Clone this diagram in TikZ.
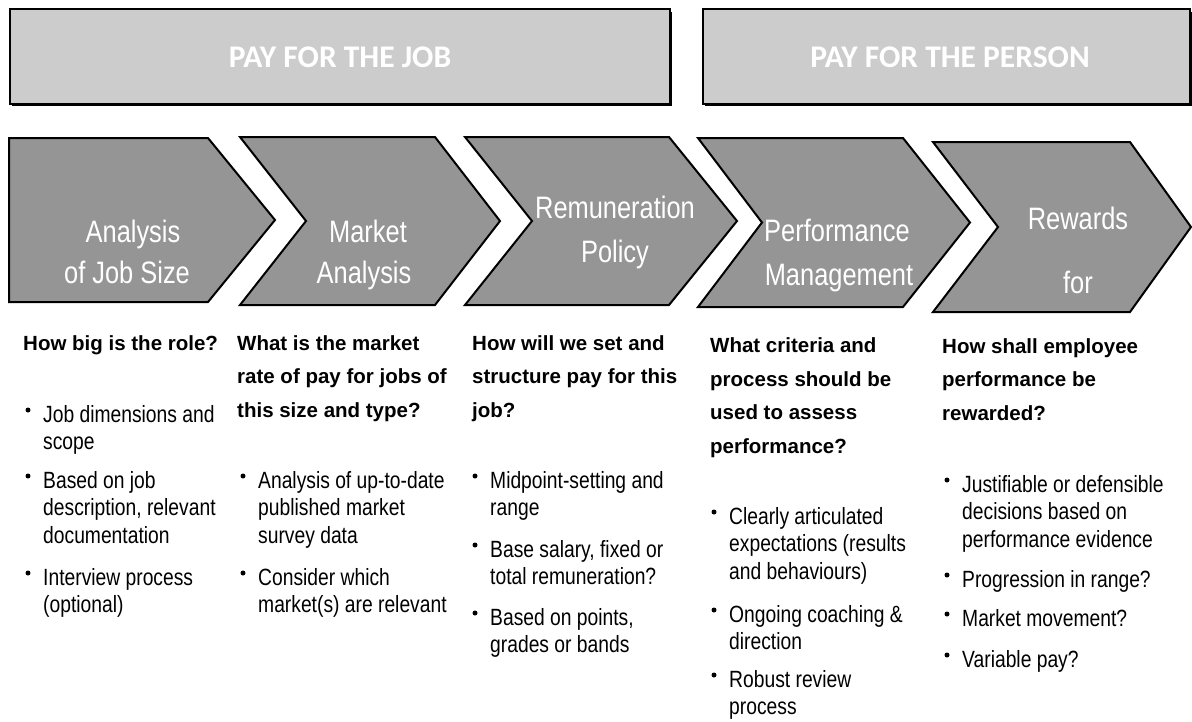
\documentclass[tikz,border=0pt]{standalone}
\usepackage{fontspec}
\setmainfont{Liberation Sans}
\newfontfamily\narrowfont[FakeStretch=0.82]{Liberation Sans}
\newfontfamily\bandfont{Carlito}
\usepackage{xcolor}
\usepackage{tikz}
\definecolor{bandgray}{RGB}{204, 204, 204}
\definecolor{stepgray}{RGB}{149, 149, 149}
\tikzset{
  band/.style={fill=bandgray, draw=black, line width=1.2pt},
  bandrim/.style={draw=black, line width=3pt},
  bandtext/.style={font=\bandfont\fontsize{31.5}{36}\selectfont\bfseries,
                   text=white, inner sep=0pt},
  chev/.style={fill=stepgray, draw=black, line width=2pt, line join=miter},
  chevtext/.style={font=\narrowfont\fontsize{31}{36}\selectfont, text=white,
                   anchor=base, inner sep=0pt},
  question/.style={font=\fontsize{20.5}{33.5}\selectfont\bfseries,
                   anchor=base west, align=left, inner sep=0pt},
  point/.style={font=\narrowfont\fontsize{23.5}{27.5}\selectfont,
                anchor=base west, align=left, inner sep=0pt},
  dot/.style={circle, fill=black, inner sep=0pt, minimum size=5pt},
}

\begin{document}
\begin{tikzpicture}[x=1pt, y=-1pt]
\useasboundingbox (0,0) rectangle (1192,721);

% ===================== top bands ==================
\draw[band] (10,9) rectangle (670,104);
\draw[bandrim] (670,12) -- (670,104) -- (12,104);
\node[bandtext] (jobband) at (340,57) {PAY FOR THE JOB};

\draw[band] (703,9) rectangle (1190,104);
\draw[bandrim] (1190,12) -- (1190,104) -- (705,104);
\node[bandtext] (personband) at (950,57) {PAY FOR THE PERSON};

% ===================== process chevrons ==================
\foreach \xl/\xr/\xt/\yt/\yb/\nd in {9/208/275/138/302/0,
    240/435/500/137/305/66, 465/669/737/137/305/67,
    698/903/970/138/307/64, 933/1130/1191/142/312/65}
  \draw[chev] (\xl,\yt) -- (\xr,\yt) -- (\xt,{(\yt+\yb)/2}) -- (\xr,\yb)
    -- (\xl,\yb) -- ({\xl+\nd},{(\yt+\yb)/2}) -- cycle;

% chevron captions, one line each
\foreach \id/\x/\y/\txt in {size1/133/242/Analysis, size2/127/283/of Job Size,
    mkt1/368/242/Market, mkt2/364/283/Analysis,
    rem1/615/218/Remuneration, rem2/615/262/Policy,
    perf1/837/241/Performance, perf2/839/285/Management,
    rew1/1078/229/Rewards, rew2/1078/293/for}
  \node[chevtext] (\id) at (\x,\y) {\txt};

% ===================== questions (y = baseline of last line) ==================
\node[question] (q1) at (23,350) {How big is the role?};
\node[question] (q2) at (237,417)
  {What is the market\\rate of pay for jobs of\\this size and type?};
\node[question] (q3) at (472,417)
  {How will we set and\\structure pay for this\\job?};
\node[question] (q4) at (710,453)
  {What criteria and\\process should be\\used to assess\\performance?};
\node[question] (q5) at (942,420)
  {How shall employee\\performance be\\rewarded?};

% ===================== bullet points (y = first baseline, n = lines) ==========
\foreach \id/\x/\y/\n/\txt in {
    p1a/28/422/2/{Job dimensions and\\scope},
    p1b/28/488/3/{Based on job\\description, relevant\\documentation},
    p1c/28/585/2/{Interview process\\(optional)},
    p2a/243/488/3/{Analysis of up-to-date\\published market\\survey data},
    p2b/243/585/2/{Consider which\\market(s) are relevant},
    p3a/475/488/2/{Midpoint-setting and\\range},
    p3b/475/557/2/{Base salary, fixed or\\total remuneration?},
    p3c/475/625/2/{Based on points,\\grades or bands},
    p4a/714/524/3/{Clearly articulated\\expectations (results\\and behaviours)},
    p4b/714/622/2/{Ongoing coaching \&\\direction},
    p4c/714/687/2/{Robust review\\process},
    p5a/947/492/3/{Justifiable or defensible\\decisions based on\\performance evidence},
    p5b/947/587/1/{Progression in range?},
    p5c/947/626/1/{Market movement?},
    p5d/947/667/1/{Variable pay?}} {
  \node[dot] (dot-\id) at (\x,\y-12) {};
  \node[point] (\id) at (\x+15,{\y+(\n-1)*27.5}) {\txt};
}

\end{tikzpicture}
\end{document}
